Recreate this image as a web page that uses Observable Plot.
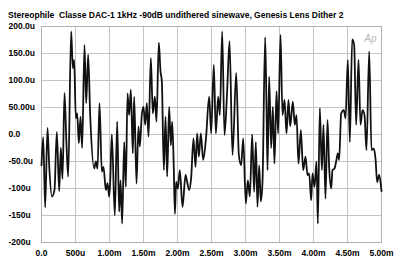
<!DOCTYPE html>
<html>
<head>
<meta charset="utf-8">
<script src="https://cdn.jsdelivr.net/npm/d3@7"></script>
<script src="https://cdn.jsdelivr.net/npm/@observablehq/plot@0.6"></script>
<style>
  html, body { margin: 0; padding: 0; background: #ffffff; }
  #wrap { width: 400px; height: 262px; position: relative; overflow: hidden; }
  #title { height: 20px; box-sizing: border-box; padding: 11px 0 0 8px; font: bold 8.5px "Liberation Sans", Arial, sans-serif; line-height: 8.5px; color: #000; white-space: nowrap; }
  svg { display: block; }
</style>
</head>
<body>
<div id="wrap">
  <div id="title">Stereophile&nbsp; Classe DAC-1 1kHz -90dB undithered sinewave, Genesis Lens Dither 2</div>
  <div id="chart"></div>
</div>
<script>
// time in ms
const timeMs = [
  0.0, 0.025, 0.054, 0.088, 0.113, 0.152, 0.191, 0.225, 0.26, 0.284, 0.309, 0.338, 0.365, 0.392,
  0.436, 0.461, 0.48, 0.505, 0.525, 0.549, 0.574, 0.598, 0.632, 0.657, 0.686, 0.716, 0.775, 0.8,
  0.824, 0.853, 0.887, 0.912, 0.946, 0.971, 0.995, 1.01, 1.034, 1.078, 1.113, 1.142, 1.162, 1.186,
  1.216, 1.24, 1.265, 1.289, 1.314, 1.343, 1.363, 1.397, 1.426, 1.446, 1.475, 1.5, 1.525, 1.549,
  1.574, 1.608, 1.637, 1.667, 1.691, 1.725, 1.75, 1.77, 1.799, 1.824, 1.848, 1.877, 1.902, 1.922,
  1.945, 1.962, 1.98, 2.005, 2.034, 2.074, 2.118, 2.142, 2.172, 2.201, 2.235, 2.265, 2.289, 2.314,
  2.343, 2.377, 2.417, 2.466, 2.495, 2.534, 2.564, 2.598, 2.623, 2.657, 2.691, 2.73, 2.765, 2.809,
  2.863, 2.902, 2.936, 2.966, 3.005, 3.034, 3.064, 3.098, 3.127, 3.152, 3.176, 3.201, 3.225, 3.25,
  3.289, 3.309, 3.324, 3.348, 3.377, 3.402, 3.426, 3.456, 3.48, 3.515, 3.544, 3.574, 3.603, 3.632,
  3.657, 3.696, 3.725, 3.75, 3.779, 3.814, 3.848, 3.882, 3.912, 3.936, 3.966, 3.985, 4.015, 4.044,
  4.064, 4.093, 4.123, 4.147, 4.176, 4.206, 4.23, 4.26, 4.279, 4.309, 4.333, 4.358, 4.377, 4.407,
  4.446, 4.471, 4.505, 4.534, 4.569, 4.598, 4.627, 4.662, 4.691, 4.721, 4.75, 4.779, 4.819, 4.853,
  4.887, 4.912, 4.936, 4.966, 5.0
];
// amplitude in micro-units
const amplitudeU = [
  -57, -5, -135, 12, -57, -115, -103, 5, -105, -25, -82, 77, -10, -78,
  191, 123, 138, 30, 39, -16, 33, -25, 166, 58, 148, 36, -63, -50,
  -63, 58, -69, -60, -103, -90, -115, -88, 0, -150, 24, -143, -85, -165,
  -14, -97, 76, 36, 83, -35, 70, -91, 15, -22, 36, 51, 18, 58,
  -4, 142, 39, 70, 24, 170, 117, 98, -66, 33, -78, 51, -20, 24,
  -60, -147, -88, -100, -66, -134, -75, -88, -103, -80, -7, -60, 2, -41,
  2, -47, -10, 70, 2, 129, 2, 70, 36, 191, -1, 80, 173, -38,
  114, -38, -57, -7, -128, -85, -115, 0, -106, -14, -134, -57, -124, -88,
  180, 50, -66, 107, -25, 51, -54, 80, 2, 185, 36, 64, 2, 64,
  15, 61, 18, 36, -54, 8, -66, -41, -75, -72, -122, -72, -97, -50,
  -165, 49, -66, 18, -119, 27, -60, -100, -66, -63, -50, -35, -47, 39,
  45, 30, 138, -14, 176, 166, 18, 138, 18, 45, 36, -29, 154, -29,
  -26, -45, -88, -75, -105
];
const xTicks = [0, 0.5, 1, 1.5, 2, 2.5, 3, 3.5, 4, 4.5, 5];
const xLabels = ["0.0", "500u", "1.00m", "1.50m", "2.00m", "2.50m", "3.00m", "3.50m", "4.00m", "4.50m", "5.00m"];
const yTicks = [200, 150, 100, 50, 0, -50, -100, -150, -200];
const yLabels = ["200.0u", "150.0u", "100.0u", "50.00u", "0.0", "-50.0u", "-100u", "-150u", "-200u"];

const data = timeMs.map((t, i) => ({t, v: amplitudeU[i]}));
const gridColor = "#c4c4c4";

const chart = Plot.plot({
  width: 400,
  height: 242,
  marginLeft: 41,
  marginRight: 19,
  marginTop: 6,
  marginBottom: 20,
  style: {fontFamily: "'Liberation Sans', Arial, sans-serif", fontSize: "8.5px", fontWeight: "bold", background: "#ffffff", color: "#000"},
  x: {domain: [0, 5]},
  y: {domain: [-200, 200]},
  marks: [
    Plot.gridX(xTicks, {stroke: gridColor, strokeOpacity: 1}),
    Plot.gridY(yTicks, {stroke: gridColor, strokeOpacity: 1}),
    Plot.frame({stroke: "#b0b0b0"}),
    Plot.axisX({ticks: xTicks, tickSize: 0, tickPadding: 7, tickFormat: (d) => xLabels[xTicks.indexOf(d)], label: null, fill: "#000"}),
    Plot.axisY({ticks: yTicks, tickSize: 0, tickPadding: 33, textAnchor: "start", tickFormat: (d) => yLabels[yTicks.indexOf(d)], label: null, fill: "#000"}),
    Plot.text(["Ap"], {frameAnchor: "top-right", dx: -5, dy: 8, fontStyle: "italic", fontWeight: "normal", fontSize: 10, fill: "#b8b8b8"}),
    Plot.line(data, {x: "t", y: "v", curve: "monotone-x", stroke: "#111", strokeWidth: 1.8, strokeLinejoin: "round"})
  ]
});
document.getElementById("chart").appendChild(chart);
</script>
</body>
</html>
